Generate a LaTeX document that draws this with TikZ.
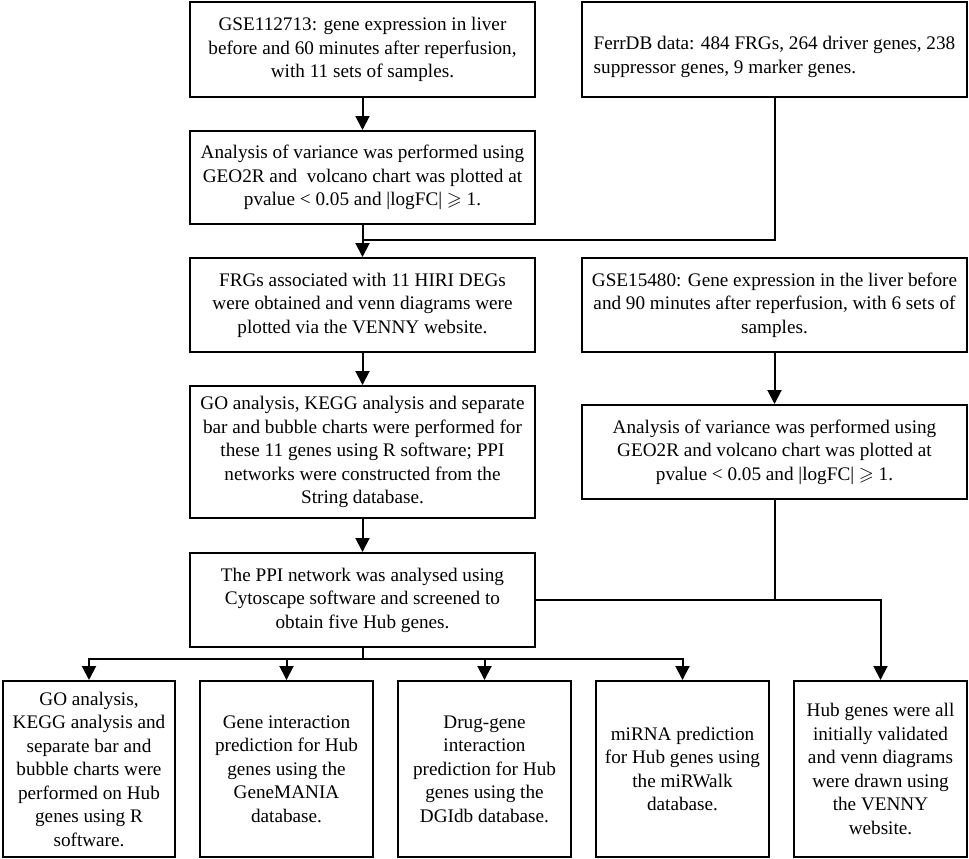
\documentclass[tikz,border=0pt]{standalone}
\usepackage{amssymb}
\usepackage{fontspec}
\setmainfont{Liberation Serif}
\usetikzlibrary{arrows.meta}

\begin{document}
\begin{tikzpicture}[x=1pt,y=-1pt,line width=2pt,
  box/.style={draw,line width=2pt,align=center,inner sep=2pt,
    font=\fontsize{19.2pt}{23.5pt}\selectfont},
  arr/.style={-{Triangle[width=14pt,length=14pt]}}]
\useasboundingbox (0,0) rectangle (969,859);

% left column
\node[box,minimum width=345pt,minimum height=95pt] (gse1) at (362.5,49.5)
  {GSE112713: gene expression in liver\\before and 60 minutes after reperfusion,\\with 11 sets of samples.};
\node[box,minimum width=345pt,minimum height=93pt] (anova1) at (362.5,177.5)
  {Analysis of variance was performed using\\GEO2R and\ \ volcano chart was plotted at\\pvalue < 0.05 and |logFC| $\geqslant$ 1.};
\node[box,minimum width=345pt,minimum height=94pt] (frg) at (362.5,305)
  {FRGs associated with 11 HIRI DEGs\\were obtained and venn diagrams were\\plotted via the VENNY website.};
\node[box,minimum width=345pt,minimum height=132pt] (goa) at (362.5,452)
  {GO analysis, KEGG analysis and separate\\bar and bubble charts were performed for\\these 11 genes using R software; PPI\\networks were constructed from the\\String database.};
\node[box,minimum width=345pt,minimum height=94pt] (ppi) at (362.5,600)
  {The PPI network was analysed using\\Cytoscape software and screened to\\obtain five Hub genes.};

% right column
\node[box,align=left,minimum width=385pt,minimum height=95pt] (ferr) at (774.5,49.5)
  {\rule{0pt}{28pt}FerrDB data: 484 FRGs, 264 driver genes, 238\\suppressor genes, 9 marker genes.};
\node[box,minimum width=385pt,minimum height=94pt] (gse2) at (774.5,305)
  {GSE15480: Gene expression in the liver before\\and 90 minutes after reperfusion, with 6 sets of\\samples.};
\node[box,minimum width=385pt,minimum height=94pt] (anova2) at (774.5,452)
  {Analysis of variance was performed using\\GEO2R and volcano chart was plotted at\\pvalue < 0.05 and |logFC| $\geqslant$ 1.};

% bottom row
\node[box,minimum width=172pt,minimum height=176pt] (b1) at (89,769)
  {GO analysis,\\KEGG analysis and\\separate bar and\\bubble charts were\\performed on Hub\\genes using R\\software.};
\node[box,minimum width=173pt,minimum height=176pt] (b2) at (286.5,769)
  {Gene interaction\\prediction for Hub\\genes using the\\GeneMANIA\\database.};
\node[box,minimum width=173pt,minimum height=176pt] (b3) at (484.5,769)
  {Drug-gene\\interaction\\prediction for Hub\\genes using the\\DGIdb database.};
\node[box,minimum width=173pt,minimum height=176pt] (b4) at (682.5,769)
  {miRNA prediction\\for Hub genes using\\the miRWalk\\database.};
\node[box,minimum width=173pt,minimum height=176pt] (b5) at (880.5,769)
  {Hub genes were all\\initially validated\\and venn diagrams\\were drawn using\\the VENNY\\website.};

% connectors
\coordinate (join) at (362.5,240);
\coordinate (split) at (362.5,659);
\draw[arr] (gse1) -- (anova1);
\draw[arr] (anova1) -- (frg);
\draw (ferr.south) |- (join);
\draw[arr] (frg) -- (goa);
\draw[arr] (goa) -- (ppi);
\draw[arr] (gse2) -- (anova2);
\draw (anova2.south) -- (anova2.south |- ppi.east);
\draw[arr] (ppi.east) -| (b5.north);
\draw (ppi.south) -- (split);
\foreach \n in {b1,b2,b3,b4}
  \draw[arr] (split) -| (\n.north);
\end{tikzpicture}
\end{document}
